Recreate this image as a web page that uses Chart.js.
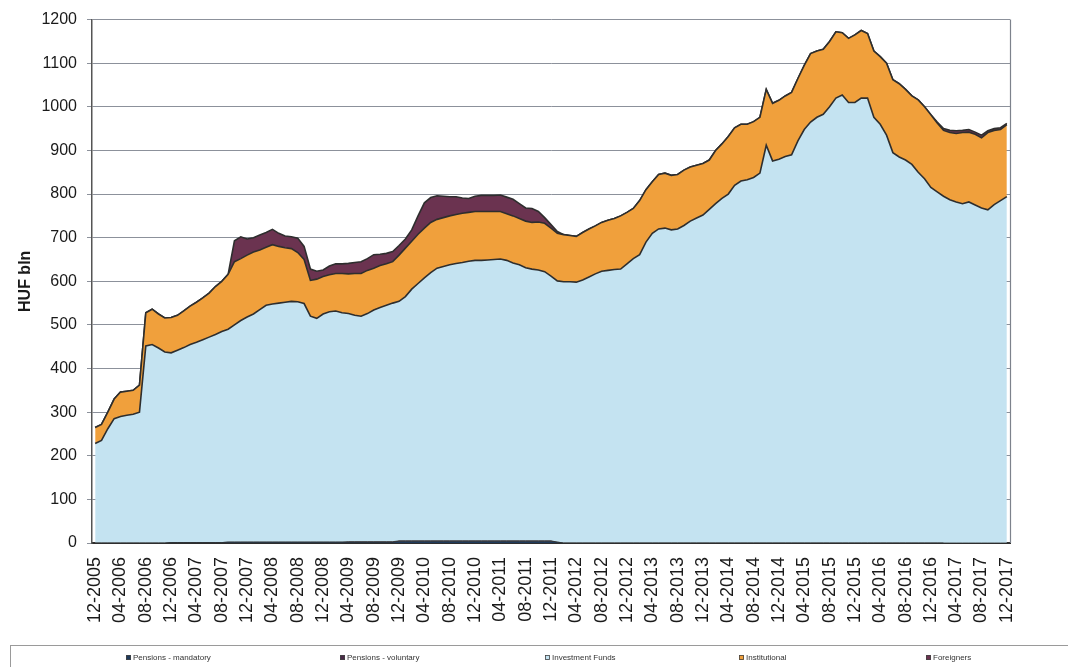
<!DOCTYPE html>
<html><head><meta charset="utf-8">
<script src="https://cdn.jsdelivr.net/npm/chart.js@4/dist/chart.umd.min.js"></script>
<style>html,body{margin:0;padding:0;background:#fff;overflow:hidden;}</style>
</head><body>
<canvas id="c" width="1068" height="667" style="width:1068px;height:667px;display:block"></canvas>
<script>
const months = [
"12-2005",
"01-2006","02-2006","03-2006","04-2006","05-2006","06-2006","07-2006","08-2006","09-2006","10-2006","11-2006","12-2006",
"01-2007","02-2007","03-2007","04-2007","05-2007","06-2007","07-2007","08-2007","09-2007","10-2007","11-2007","12-2007",
"01-2008","02-2008","03-2008","04-2008","05-2008","06-2008","07-2008","08-2008","09-2008","10-2008","11-2008","12-2008",
"01-2009","02-2009","03-2009","04-2009","05-2009","06-2009","07-2009","08-2009","09-2009","10-2009","11-2009","12-2009",
"01-2010","02-2010","03-2010","04-2010","05-2010","06-2010","07-2010","08-2010","09-2010","10-2010","11-2010","12-2010",
"01-2011","02-2011","03-2011","04-2011","05-2011","06-2011","07-2011","08-2011","09-2011","10-2011","11-2011","12-2011",
"01-2012","02-2012","03-2012","04-2012","05-2012","06-2012","07-2012","08-2012","09-2012","10-2012","11-2012","12-2012",
"01-2013","02-2013","03-2013","04-2013","05-2013","06-2013","07-2013","08-2013","09-2013","10-2013","11-2013","12-2013",
"01-2014","02-2014","03-2014","04-2014","05-2014","06-2014","07-2014","08-2014","09-2014","10-2014","11-2014","12-2014",
"01-2015","02-2015","03-2015","04-2015","05-2015","06-2015","07-2015","08-2015","09-2015","10-2015","11-2015","12-2015",
"01-2016","02-2016","03-2016","04-2016","05-2016","06-2016","07-2016","08-2016","09-2016","10-2016","11-2016","12-2016",
"01-2017","02-2017","03-2017","04-2017","05-2017","06-2017","07-2017","08-2017","09-2017","10-2017","11-2017","12-2017"
];

const seriesNames = ["Pensions - mandatory","Pensions - voluntary","Investment Funds","Institutional","Foreigners"];

const pensionsMandatory = [
0,0,0,0,0,0,0,0,0,0,0,0,
1,1,1,1,1,1,1,1,1,
2,2,2,2,2,2,2,2,2,2,2,2,2,2,2,2,2,2,2,2,2,2,2,2,2,2,2,
4,4,4,4,4,4,4,4,4,4,4,4,4,4,4,4,4,4,4,4,4,4,4,4,4,
2,
0,0,0,0,0,0,0,0,0,0,0,0,0,0,0,0,0,0,0,0,0,0,0,0,0,0,0,0,0,0,0,0,0,0,0,0,0,0,0,0,0,0,0,0,0,0,0,0,0,0,0,0,0,0,0,0,0,0,0,0,0
];

const pensionsVoluntary = [
0,0,0,0,0,0,0,0,0,0,0,0,0,0,0,0,0,0,0,0,0,0,0,0,0,0,0,0,0,0,0,0,0,0,0,0,0,0,0,0,
1,1,1,1,1,1,1,1,
1,1,1,1,1,1,1,1,1,1,1,1,1,1,1,1,1,1,1,1,1,1,1,1,1,
0,0,0,0,0,0,0,0,0,0,0,0,0,0,0,0,0,0,0,0,0,0,0,0,0,0,0,0,0,0,0,0,0,0,0,0,0,0,0,0,0,0,0,0,0,0,0,0,0,0,0,0,0,0,0,0,0,0,0,0,0,0,0,0,0,0,0,0,0,0,0,0
];

const investmentFunds = [
228,235,262,285,290,293,295,300,452,455,447,438,
435,441,447,454,459,465,471,477,484,488,498,508,
516,523,533,543,546,548,550,552,551,547,518,513,
523,528,530,526,523,519,517,523,531,537,542,547,
549,560,577,590,603,615,625,629,633,636,638,641,
643,643,644,645,646,643,637,633,626,623,621,617,
607,599,599,599,598,603,610,617,623,625,627,628,
640,652,661,690,710,720,722,718,720,728,738,745,
752,765,778,790,800,820,830,833,838,848,912,876,
880,886,890,922,948,965,976,983,1000,1020,1027,1010,
1010,1020,1020,976,960,935,895,885,878,868,850,835,
815,805,795,787,782,778,782,775,768,764,776,785,
794
];

const institutional = [
37,37,38,45,56,55,55,62,76,81,78,78,
81,80,84,88,92,96,101,110,115,126,145,142,
142,142,137,133,136,130,125,121,113,101,82,90,
86,85,86,90,91,96,98,99,96,96,95,95,
106,111,110,113,114,115,112,112,112,112,113,112,
112,112,111,110,109,107,108,106,107,107,110,111,
110,109,108,106,105,109,110,110,112,115,117,122,
118,115,124,120,118,125,126,125,125,127,124,121,
118,113,122,125,132,132,130,127,128,128,128,132,
135,139,143,143,147,157,152,149,150,152,143,147,
155,155,148,152,155,165,167,168,162,157,166,165,
167,158,151,154,157,163,160,162,161,177,170,163,
165
];

const foreigners = [
0,0,0,0,0,0,0,0,0,0,0,0,0,0,0,0,0,0,0,0,0,0,
48,50,37,33,34,34,35,30,27,27,33,30,26,18,15,20,22,22,24,25,27,27,31,26,24,23,22,21,26,42,58,57,54,49,44,41,35,32,35,37,37,37,38,38,38,34,30,32,24,13,8,4,
0,0,0,0,0,0,0,0,0,0,0,0,0,0,0,0,0,0,0,0,0,0,0,0,0,0,0,0,0,0,0,0,0,0,0,0,0,0,0,0,0,0,0,0,0,0,0,0,0,0,0,0,0,0,0,0,0,0,0,
2,4,5,6,5,6,5,6,4,4,4,3
];

const yTicks = [0,100,200,300,400,500,600,700,800,900,1000,1100,1200];

const fills = ["#1f3a5a","#4a2a48","#c4e3f1","#f0a03c","#6b3350"];
const legendX = [126, 340, 545, 739, 926];

const legendPlugin = {
  id: 'boxLegend',
  afterDraw(chart) {
    const ctx = chart.ctx;
    ctx.save();
    ctx.strokeStyle = '#9a9a9a'; ctx.lineWidth = 1;
    ctx.strokeRect(10.5, 645.5, 1100, 40);
    ctx.font = '8px "Liberation Sans", Arial, sans-serif';
    ctx.textBaseline = 'middle';
    chart.data.datasets.forEach((ds, i) => {
      const x = legendX[i];
      ctx.fillStyle = ds.backgroundColor; ctx.fillRect(x, 655, 5, 5);
      ctx.strokeStyle = '#444'; ctx.lineWidth = 0.8; ctx.strokeRect(x + 0.5, 655.5, 4, 4);
      ctx.fillStyle = '#333'; ctx.fillText(ds.label, x + 7, 658);
    });
    ctx.restore();
  }
};
const framePlugin = {
  id: 'frame',
  afterDatasetsDraw(chart) {
    const {ctx, chartArea: a} = chart;
    ctx.save();
    ctx.strokeStyle = '#7d828c'; ctx.lineWidth = 1.2;
    ctx.beginPath(); ctx.moveTo(a.right + 0.5, a.top); ctx.lineTo(a.right + 0.5, a.bottom); ctx.stroke();
    ctx.restore();
  }
};

const seriesData = [pensionsMandatory, pensionsVoluntary, investmentFunds, institutional, foreigners];
const datasets = seriesData.map((d, i) => ({
  label: seriesNames[i],
  data: d,
  backgroundColor: fills[i],
  borderColor: '#2e2e2e',
  borderWidth: i < 2 ? 0.8 : 1.6,
  pointRadius: 0,
  tension: 0,
  fill: i === 0 ? 'origin' : '-1'
}));

new Chart(document.getElementById('c'), {
  type: 'line',
  data: { labels: months, datasets },
  options: {
    responsive: false,
    animation: false,
    layout: { padding: { top: 17, right: 58, bottom: 0, left: 0 } },
    plugins: { legend: { display: false }, tooltip: { enabled: false } },
    elements: { line: { borderJoinStyle: 'miter' } },
    scales: {
      x: {
        type: 'category',
        offset: true,
        grid: { display: false },
        border: { display: true, color: '#2e2e2e', width: 2 },
        ticks: {
          autoSkip: false, minRotation: 90, maxRotation: 90, padding: 6,
          color: '#1a1a1a',
          font: { family: '"Liberation Sans", Arial, sans-serif', size: 18 },
          callback: (v, i) => (i % 4 === 0 ? months[i] : null)
        },
        afterFit: s => { s.height = 124; }
      },
      y: {
        stacked: true,
        min: 0, max: 1200,
        afterBuildTicks: s => { s.ticks = yTicks.map(v => ({ value: v })); },
        grid: { color: '#8c919b', lineWidth: 1, tickLength: 5, tickColor: '#8c919b' },
        border: { display: true, color: '#555', width: 1.5 },
        ticks: { padding: 10, color: '#1a1a1a', font: { family: '"Liberation Sans", Arial, sans-serif', size: 16 },
                 callback: v => String(v) },
        title: { display: true, text: 'HUF bln', color: '#1a1a1a', padding: { top: 16, bottom: 0 },
                 font: { family: '"Liberation Sans", Arial, sans-serif', size: 16, weight: 'bold' } },
        afterFit: s => { s.width = 92; }
      }
    }
  },
  plugins: [legendPlugin, framePlugin]
});
</script>
</body></html>
